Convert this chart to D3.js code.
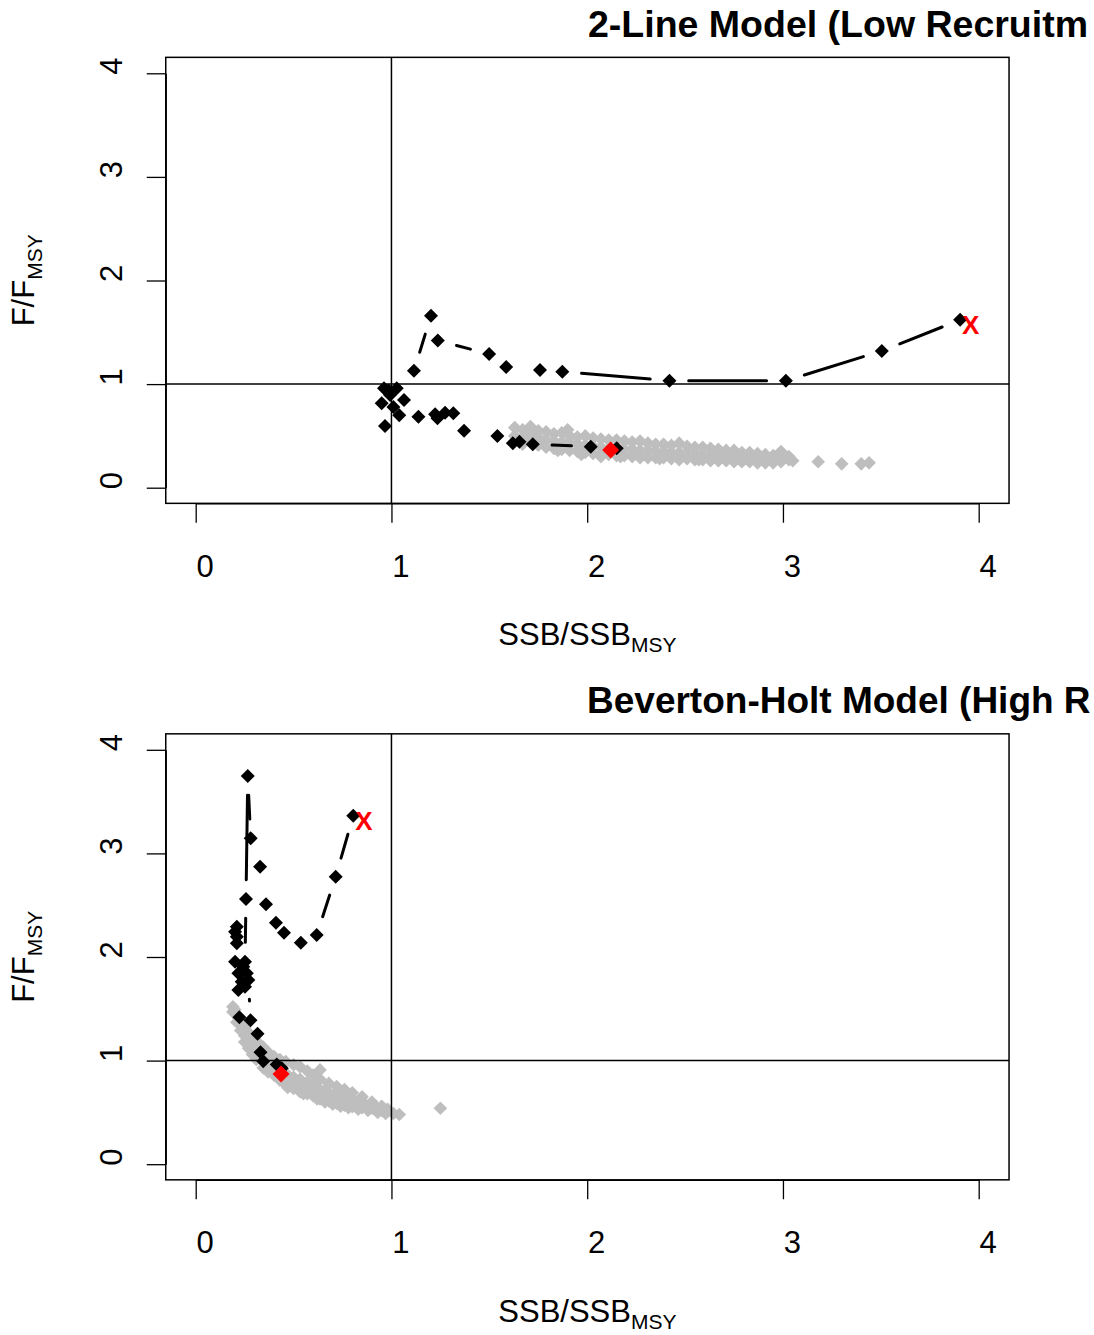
<!DOCTYPE html>
<html><head><meta charset="utf-8">
<script src="https://cdn.jsdelivr.net/npm/d3@7"></script>
<style>body{margin:0;background:#fff}svg{display:block}</style>
</head><body>
<svg id="c" width="1094" height="1335"></svg>
<script>
// ---------- data ----------
const xTicks = [0, 1, 2, 3, 4];
const yTicks = [0, 1, 2, 3, 4];
const titles = ["2-Line Model (Low Recruitm", "Beverton-Holt Model (High R"];
const xLabelMain = "SSB/SSB", xLabelSub = "MSY";
const yLabelMain = "F/F", yLabelSub = "MSY";

// Top panel: projection cloud (grey)
const topGray = [
 [1.63,0.58],[1.63,0.50],[1.67,0.56],[1.67,0.48],[1.67,0.42],[1.71,0.59],[1.71,0.52],[1.71,0.44],
 [1.75,0.55],[1.75,0.48],[1.75,0.41],[1.79,0.54],[1.79,0.46],[1.79,0.39],[1.83,0.52],[1.83,0.45],[1.83,0.38],
 [1.87,0.53],[1.87,0.44],[1.87,0.37],[1.90,0.56],[1.91,0.50],[1.91,0.43],[1.91,0.36],[1.95,0.49],[1.95,0.42],[1.95,0.35],
 [1.99,0.50],[1.99,0.41],[1.99,0.34],[2.03,0.48],[2.03,0.40],[2.03,0.33],[2.07,0.47],[2.07,0.39],[2.07,0.32],
 [2.11,0.46],[2.11,0.38],[2.11,0.32],[2.15,0.46],[2.15,0.38],[2.15,0.31],[2.19,0.45],[2.19,0.37],[2.19,0.31],
 [2.23,0.44],[2.23,0.37],[2.23,0.30],[2.27,0.45],[2.27,0.36],[2.27,0.30],[2.31,0.43],[2.31,0.36],[2.31,0.29],
 [2.35,0.42],[2.35,0.35],[2.35,0.29],[2.39,0.42],[2.39,0.35],[2.39,0.29],[2.43,0.41],[2.43,0.34],[2.43,0.28],
 [2.47,0.43],[2.47,0.34],[2.47,0.28],[2.51,0.40],[2.51,0.33],[2.51,0.28],[2.55,0.39],[2.55,0.33],[2.55,0.27],
 [2.59,0.39],[2.59,0.32],[2.59,0.27],[2.63,0.38],[2.63,0.32],[2.63,0.26],[2.67,0.37],[2.67,0.31],[2.67,0.26],
 [2.71,0.36],[2.71,0.31],[2.71,0.26],[2.75,0.36],[2.75,0.30],[2.75,0.25],[2.79,0.34],[2.79,0.30],[2.79,0.25],
 [2.83,0.34],[2.83,0.29],[2.83,0.25],[2.87,0.33],[2.87,0.29],[2.87,0.24],[2.91,0.32],[2.91,0.28],[2.91,0.24],
 [2.95,0.31],[2.95,0.27],[2.95,0.24],[2.99,0.35],[2.99,0.28],[2.99,0.25],[3.03,0.30],[3.03,0.27],[3.05,0.26],
 [1.85,0.36],[1.97,0.32],[2.07,0.30],[2.17,0.30],[2.27,0.29],[2.37,0.28],[2.47,0.27],[2.57,0.27],
 [3.18,0.25],[3.30,0.23],[3.40,0.23],[3.44,0.24]
];
// Top panel: historical trajectory (black), first point marked with X
const topPath = [
 [3.905,1.62],[3.505,1.32],[3.015,1.033],[2.42,1.033],[1.873,1.12],[1.759,1.136],[1.586,1.165],[1.499,1.29],
 [1.237,1.42],[1.202,1.66],[1.115,1.13],[1.027,0.96],[0.962,0.96],[0.985,0.94],[0.993,0.895],[0.95,0.815],
 [1.064,0.846],[1.01,0.78],[1.04,0.70],[0.967,0.595],[1.138,0.685],[1.223,0.71],[1.274,0.724],[1.316,0.718],
 [1.235,0.67],[1.371,0.55],[1.541,0.50],[1.62,0.43],[1.654,0.444],[1.722,0.42],[2.018,0.396],[2.151,0.38]
];
const topRed = [[2.12,0.364]];

// Bottom panel
const botGray = [
 [0.19,1.52],[0.19,1.47],[0.21,1.44],[0.21,1.37],[0.23,1.38],[0.23,1.29],[0.25,1.32],[0.25,1.24],[0.25,1.18],
 [0.27,1.27],[0.27,1.19],[0.27,1.12],[0.29,1.22],[0.29,1.14],[0.29,1.06],[0.31,1.19],[0.31,1.10],[0.31,1.01],
 [0.345,1.13],[0.345,1.03],[0.345,0.93],[0.37,1.08],[0.37,0.98],[0.37,0.89],[0.40,1.04],[0.40,0.95],[0.40,0.86],
 [0.43,1.01],[0.43,0.91],[0.43,0.81],[0.46,0.99],[0.46,0.88],[0.46,0.77],[0.50,0.96],[0.50,0.84],[0.50,0.73],
 [0.533,0.94],[0.533,0.82],[0.533,0.70],[0.57,0.90],[0.57,0.79],[0.57,0.68],[0.60,0.86],[0.60,0.76],[0.60,0.66],
 [0.635,0.91],[0.635,0.82],[0.635,0.72],[0.635,0.63],[0.68,0.78],[0.68,0.69],[0.68,0.61],[0.72,0.75],[0.72,0.67],[0.72,0.59],
 [0.76,0.72],[0.76,0.64],[0.76,0.57],[0.80,0.69],[0.80,0.62],[0.80,0.555],[0.85,0.65],[0.85,0.595],[0.85,0.545],
 [0.90,0.60],[0.90,0.54],[0.95,0.56],[0.95,0.52],[0.98,0.53],[0.98,0.51],[1.01,0.49],[1.04,0.48],
 [0.20,1.49],[0.22,1.41],[0.26,1.27],[0.28,1.16],[0.30,1.12],[0.33,1.06],[0.36,1.00],[0.39,0.92],[0.42,0.87],
 [0.45,0.83],[0.48,0.80],[0.52,0.78],[0.56,0.74],[0.59,0.71],[0.47,0.74],[0.55,0.68],[0.62,0.63],[0.66,0.60],
 [0.70,0.58],[0.74,0.56],[0.78,0.545],[0.83,0.53],[0.88,0.52],[0.93,0.50],[0.97,0.49],[0.66,0.71],[0.70,0.66],
 [0.74,0.64],[0.78,0.61],[0.82,0.59],[0.87,0.57],[0.92,0.55],[0.96,0.535],
 [1.25,0.54]
];
const botPath = [
 [0.805,3.364],[0.715,2.775],[0.618,2.212],[0.537,2.138],[0.451,2.235],[0.41,2.331],[0.359,2.509],[0.329,2.872],
 [0.281,3.146],[0.266,3.747],[0.257,2.56],[0.252,1.955],[0.21,2.132],[0.21,2.196],[0.201,2.244],[0.21,2.292],
 [0.201,1.955],[0.243,1.906],[0.218,1.843],[0.261,1.843],[0.235,1.762],[0.218,1.681],[0.252,1.713],[0.269,1.778],
 [0.28,1.389],[0.223,1.418],[0.316,1.259],[0.331,1.081],[0.345,0.993],[0.414,0.962],[0.44,0.926]
];
const botRed = [[0.436,0.870]];

// ---------- drawing ----------
const svg = d3.select("#c");
const FONT = "'Liberation Sans', Arial, Helvetica, sans-serif";
const panels = [
  {title: titles[0], tx: 588, tsize: 37.5, gray: topGray, path: topPath, red: topRed, oy: 0},
  {title: titles[1], tx: 587, tsize: 37, gray: botGray, path: botPath, red: botRed, oy: 676.5}
];
const diamond = r => `M0,${-r}L${r},0L0,${r}L${-r},0Z`;
const GAP = 19.3;

panels.forEach((p, i) => {
  const g = svg.append("g");
  const x = d3.scaleLinear().domain([0, 4]).range([195.7, 978.7]);
  const y = d3.scaleLinear().domain([0, 4]).range([487.7 + p.oy, 73.3 + p.oy]);
  const bx0 = x(-0.153), bx1 = x(4.155), by0 = y(4.154), by1 = y(-0.151);

  const cid = "clip" + i;
  svg.append("clipPath").attr("id", cid).append("rect")
    .attr("x", bx0).attr("y", by0).attr("width", bx1 - bx0).attr("height", by1 - by0);
  const plot = g.append("g").attr("clip-path", `url(#${cid})`);

  // grey cloud
  plot.selectAll("path.gray").data(p.gray).enter().append("path")
    .attr("class", "gray").attr("d", diamond(6.8)).attr("fill", "#BEBEBE")
    .attr("transform", d => `translate(${x(d[0])},${y(d[1])})`);

  // trajectory segments (type="b": gaps at points)
  const segs = [];
  for (let k = 0; k < p.path.length - 1; k++) {
    const x1 = x(p.path[k][0]), y1 = y(p.path[k][1]);
    const x2 = x(p.path[k+1][0]), y2 = y(p.path[k+1][1]);
    const L = Math.hypot(x2 - x1, y2 - y1);
    if (L > 2 * GAP) {
      const ux = (x2 - x1) / L, uy = (y2 - y1) / L;
      segs.push([x1 + ux*GAP, y1 + uy*GAP, x2 - ux*GAP, y2 - uy*GAP]);
    }
  }
  plot.selectAll("line.seg").data(segs).enter().append("line")
    .attr("x1", d => d[0]).attr("y1", d => d[1]).attr("x2", d => d[2]).attr("y2", d => d[3])
    .attr("stroke", "#000").attr("stroke-width", 3).attr("stroke-linecap", "round");

  plot.selectAll("path.blk").data(p.path).enter().append("path")
    .attr("d", diamond(7)).attr("fill", "#000")
    .attr("transform", d => `translate(${x(d[0])},${y(d[1])})`);

  // reference lines
  plot.append("line").attr("x1", x(1)).attr("x2", x(1)).attr("y1", by0).attr("y2", by1)
    .attr("stroke", "#000").attr("stroke-width", 1.5);
  plot.append("line").attr("x1", bx0).attr("x2", bx1).attr("y1", y(1)).attr("y2", y(1))
    .attr("stroke", "#000").attr("stroke-width", 1.5);

  // red current point
  plot.selectAll("path.red").data(p.red).enter().append("path")
    .attr("d", diamond(8.5)).attr("fill", "#FF0000")
    .attr("transform", d => `translate(${x(d[0])},${y(d[1])})`);

  // red X at start of trajectory
  g.append("text").attr("x", x(p.path[0][0]) + 2).attr("y", y(p.path[0][1]) + 14)
    .attr("font-family", FONT).attr("font-weight", "bold").attr("font-size", 26)
    .attr("fill", "#FF0000").text("X");

  // box
  g.append("rect").attr("x", bx0).attr("y", by0).attr("width", bx1 - bx0).attr("height", by1 - by0)
    .attr("fill", "none").attr("stroke", "#000").attr("stroke-width", 1.5);

  // x axis
  const xa = g.append("g").attr("transform", `translate(0,${by1})`)
    .call(d3.axisBottom(x).tickValues(xTicks).tickSize(19.4).tickSizeOuter(0).tickFormat(d3.format("d")));
  xa.select(".domain").attr("stroke", "#000").attr("stroke-width", 1.3);
  xa.selectAll(".tick line").attr("stroke", "#000").attr("stroke-width", 1.3);
  xa.selectAll(".tick text").attr("y", 73.4).attr("dy", 0).attr("x", 9)
    .attr("font-family", FONT).attr("font-size", 31).attr("fill", "#000");

  // y axis
  const ya = g.append("g").attr("transform", `translate(${bx0},0)`)
    .call(d3.axisLeft(y).tickValues(yTicks).tickSize(19).tickSizeOuter(0).tickFormat(d3.format("d")));
  ya.select(".domain").attr("stroke", "#000").attr("stroke-width", 1.3);
  ya.selectAll(".tick line").attr("stroke", "#000").attr("stroke-width", 1.3);
  ya.selectAll(".tick text").attr("x", 0).attr("y", 0).attr("dy", 0)
    .attr("text-anchor", "middle")
    .attr("transform", `translate(${122 - bx0},-7.7) rotate(-90)`)
    .attr("font-family", FONT).attr("font-size", 31).attr("fill", "#000");

  // axis titles
  const xt = g.append("text").attr("x", (bx0 + bx1) / 2).attr("y", 645 + p.oy)
    .attr("text-anchor", "middle").attr("font-family", FONT).attr("font-size", 31);
  xt.append("tspan").text(xLabelMain);
  xt.append("tspan").attr("font-size", 21).attr("dy", 7).text(xLabelSub);

  const yt = g.append("text")
    .attr("transform", `translate(33.5,${(by0 + by1) / 2}) rotate(-90)`)
    .attr("text-anchor", "middle").attr("font-family", FONT).attr("font-size", 31);
  yt.append("tspan").text(yLabelMain);
  yt.append("tspan").attr("font-size", 21).attr("dy", 8).text(yLabelSub);

  // title (as visible in the reference, running to the right edge)
  g.append("text").attr("x", p.tx).attr("y", 36.5 + p.oy)
    .attr("font-family", FONT).attr("font-weight", "bold").attr("font-size", p.tsize)
    .text(p.title);
});
</script>
</body></html>
